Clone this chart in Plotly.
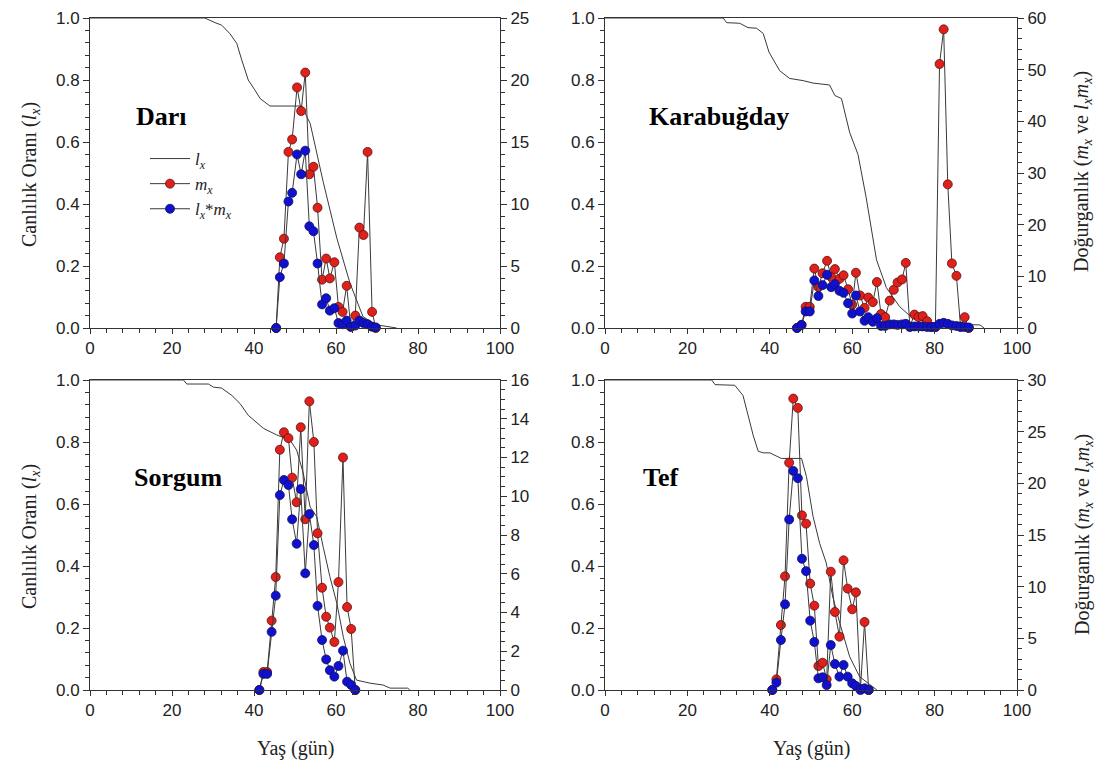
import plotly.graph_objects as go

# ---------------- data ----------------
# Darı
dari_lx_day = [0, 28, 30.5, 32.1, 34.1, 35.8, 37, 38.6, 40.2, 41.5, 43.9, 51.6, 53.7, 56.9, 60.2, 63.4, 66.6, 70, 74.8]
dari_lx = [1, 1, 0.985, 0.977, 0.95, 0.918, 0.865, 0.8, 0.768, 0.74, 0.716, 0.716, 0.66, 0.47, 0.29, 0.145, 0.036, 0.01, 0]
dari_day = [45.4, 46.3, 47.3, 48.4, 49.3, 50.5, 51.5, 52.5, 53.5, 54.5, 55.5, 56.6, 57.6, 58.5, 59.6, 60.6, 61.6, 62.6, 63.6, 64.7, 65.7, 66.7, 67.7, 68.8, 69.7]
dari_mx = [0, 5.7, 7.2, 14.2, 15.2, 19.4, 17.5, 20.6, 12.4, 13.0, 9.7, 3.9, 5.6, 4.0, 5.3, 1.7, 1.3, 3.4, 0.1, 1.0, 8.1, 7.5, 14.2, 1.3, 0]
dari_lxmx = [0, 4.1, 5.2, 10.2, 10.9, 14.0, 12.4, 14.3, 8.2, 7.8, 5.2, 1.9, 2.4, 1.4, 1.6, 0.4, 0.3, 0.6, 0.1, 0.2, 0.6, 0.4, 0.3, 0.1, 0.05]

# Karabuğday
kara_lx_day = [0, 28.7, 29.5, 32.7, 34.7, 36.8, 38.4, 39.8, 42.4, 44.8, 48.1, 50.5, 54.5, 55.8, 57.4, 59.4, 61.4, 63.4, 65.9, 68.3, 71.5, 74.7, 80.4, 91, 92]
kara_lx = [1, 1, 0.985, 0.983, 0.969, 0.967, 0.95, 0.89, 0.83, 0.805, 0.798, 0.79, 0.784, 0.75, 0.74, 0.63, 0.56, 0.42, 0.22, 0.13, 0.069, 0.031, 0.012, 0.01, 0]
kara_day = [46.6, 47.7, 48.7, 49.7, 50.8, 51.8, 52.8, 53.9, 54.9, 55.8, 56.9, 57.9, 59.0, 60.0, 60.9, 61.9, 63.0, 63.9, 65.0, 66.0, 67.0, 68.0, 69.1, 70.1, 71.0, 72.1, 73.0, 74.0, 75.1, 76.1, 77.1, 78.2, 79.2, 80.2, 81.2, 82.2, 83.2, 84.2, 85.3, 86.3, 87.3, 88.3]
kara_mx = [0, 0.6, 4.1, 4.1, 11.5, 7.9, 10.6, 13.0, 9.9, 11.4, 9.5, 10.2, 7.5, 4.5, 10.7, 6.3, 3.9, 5.9, 5.0, 8.9, 2.7, 2.1, 5.3, 7.4, 8.8, 9.4, 12.6, 0.3, 2.6, 2.1, 2.3, 1.3, 0.2, 0.2, 51.1, 57.8, 27.8, 12.5, 10.1, 0.3, 2.1, 0]
kara_lxmx = [0, 0.6, 3.2, 3.2, 9.2, 6.2, 8.3, 10.3, 7.9, 8.5, 7.2, 6.8, 4.8, 2.8, 6.3, 3.2, 1.4, 2.1, 1.2, 1.9, 0.4, 0.4, 0.7, 0.7, 0.6, 0.7, 0.8, 0.2, 0.3, 0.3, 0.3, 0.2, 0.2, 0.2, 0.8, 1.0, 0.8, 0.5, 0.4, 0.2, 0.2, 0.1]

# Sorgum
sorg_lx_day = [0, 22.8, 23.6, 28.9, 30.1, 32.1, 34.6, 36.6, 38.6, 41, 42.3, 45.5, 48.8, 50.4, 52, 53.7, 55.3, 56.9, 58.5, 60.2, 61.8, 63.4, 65, 68.3, 71.5, 73.2, 77.5, 78]
sorg_lx = [1, 1, 0.987, 0.987, 0.977, 0.974, 0.95, 0.924, 0.886, 0.859, 0.844, 0.823, 0.806, 0.774, 0.70, 0.59, 0.559, 0.46, 0.366, 0.28, 0.17, 0.086, 0.032, 0.022, 0.016, 0.006, 0.006, 0]
sorg_day = [41.3, 42.3, 43.2, 44.3, 45.3, 46.3, 47.3, 48.4, 49.3, 50.4, 51.4, 52.5, 53.5, 54.6, 55.5, 56.6, 57.6, 58.5, 59.6, 60.6, 61.7, 62.7, 63.7, 64.7]
sorg_mx = [0, 0.93, 0.93, 3.58, 5.83, 12.4, 13.3, 13.0, 10.96, 9.69, 13.56, 8.81, 14.9, 12.8, 8.09, 5.28, 3.78, 3.22, 2.48, 5.57, 12.0, 4.28, 3.15, 0]
sorg_lxmx = [0, 0.83, 0.83, 3.0, 4.87, 10.06, 10.84, 10.58, 8.81, 7.55, 10.37, 6.02, 9.08, 7.48, 4.34, 2.58, 1.58, 1.02, 0.69, 1.24, 2.03, 0.43, 0.26, 0]

# Tef
tef_lx_day = [0, 25.9, 26.7, 31.5, 33.5, 34.7, 36, 37.2, 38.4, 40, 42.8, 47.7, 48.9, 50.5, 52.1, 53.7, 55.3, 57, 59.4, 61.8, 65, 66]
tef_lx = [1, 1, 0.985, 0.983, 0.95, 0.886, 0.82, 0.77, 0.765, 0.765, 0.747, 0.747, 0.688, 0.56, 0.473, 0.41, 0.30, 0.215, 0.107, 0.043, 0.01, 0]
tef_day = [40.6, 41.6, 42.7, 43.7, 44.7, 45.7, 46.8, 47.8, 48.8, 49.8, 50.8, 51.8, 52.8, 53.8, 54.8, 55.8, 56.9, 57.9, 58.9, 60.0, 60.9, 62.0, 63.0, 64.0]
tef_mx = [0, 1.03, 6.29, 11.0, 22.0, 28.2, 27.3, 16.9, 16.1, 10.3, 8.16, 2.32, 2.64, 1.03, 11.45, 7.55, 5.16, 12.55, 9.81, 7.81, 9.45, 0.1, 6.58, 0]
tef_lxmx = [0, 0.71, 4.84, 8.29, 16.5, 21.2, 20.5, 12.7, 11.5, 6.71, 4.65, 1.13, 1.23, 0.48, 4.35, 2.52, 1.29, 2.42, 1.29, 0.65, 0.39, 0.0, 0.16, 0]

panel_names = ["Darı", "Karabuğday", "Sorgum", "Tef"]
right_max = [25, 60, 16, 30]
right_dtick = [5, 10, 2, 5]
right_minor = [1, 2, 0.5, 1]
x_ticks = [0, 20, 40, 60, 80, 100]
left_ticks = [0.0, 0.2, 0.4, 0.6, 0.8, 1.0]

panels = [
    (dari_lx_day, dari_lx, dari_day, dari_mx, dari_lxmx),
    (kara_lx_day, kara_lx, kara_day, kara_mx, kara_lxmx),
    (sorg_lx_day, sorg_lx, sorg_day, sorg_mx, sorg_lxmx),
    (tef_lx_day, tef_lx, tef_day, tef_mx, tef_lxmx),
]

# ---------------- layout geometry ----------------
W, H = 1104, 769
xdom = [[90 / W, 500 / W], [605 / W, 1017 / W]]
ydom = [[(H - 328) / H, (H - 18) / H], [(H - 690) / H, (H - 380) / H]]

AX = "#333333"
TICKFONT = dict(family="Liberation Sans, Arial, sans-serif", size=17, color="#222222")
SERIF = "Liberation Serif, Times New Roman, serif"
RED = "#e0201b"
BLUE = "#1010d0"
LINE = "#3a3a3a"

fig = go.Figure()
layout = {}

for i, (lxd, lx, d, mx, lxmx) in enumerate(panels):
    k = i + 1
    col = i % 2
    row = i // 2
    xa = "x" if k == 1 else f"x{k}"
    yl_n = 2 * i + 1
    yr_n = 2 * i + 2
    yl = "y" if yl_n == 1 else f"y{yl_n}"
    yr = f"y{yr_n}"
    show = (i == 0)

    fig.add_trace(go.Scatter(x=lxd, y=lx, xaxis=xa, yaxis=yl, mode="lines",
                             line=dict(color=LINE, width=1),
                             name="<i>l<sub>x</sub></i>", showlegend=show, legendgroup="a"))
    fig.add_trace(go.Scatter(x=d, y=mx, xaxis=xa, yaxis=yr, mode="lines+markers",
                             line=dict(color=LINE, width=1),
                             marker=dict(color=RED, size=9, line=dict(color="#5a1010", width=0.8)),
                             cliponaxis=False,
                             name="<i>m<sub>x</sub></i>", showlegend=show, legendgroup="b"))
    fig.add_trace(go.Scatter(x=d, y=lxmx, xaxis=xa, yaxis=yr, mode="lines+markers",
                             line=dict(color=LINE, width=1),
                             marker=dict(color=BLUE, size=9, line=dict(color="#10105a", width=0.8)),
                             cliponaxis=False,
                             name="<i>l<sub>x</sub></i>*<i>m<sub>x</sub></i>", showlegend=show, legendgroup="c"))

    xkey = "xaxis" if k == 1 else f"xaxis{k}"
    ylkey = "yaxis" if yl_n == 1 else f"yaxis{yl_n}"
    yrkey = f"yaxis{yr_n}"

    layout[xkey] = dict(domain=xdom[col], anchor=yl, range=[0, 100], automargin=False,
                        tickvals=x_ticks, ticks="outside", ticklen=5, tickcolor=AX,
                        minor=dict(dtick=4, tick0=0, ticks="outside", ticklen=4, tickcolor=AX),
                        showline=True, linecolor=AX, linewidth=1, mirror=True,
                        showgrid=False, zeroline=False, tickfont=TICKFONT)
    layout[ylkey] = dict(domain=ydom[row], anchor=xa, range=[0, 1], automargin=False,
                         tickvals=left_ticks, tickformat=".1f", ticks="outside", ticklen=6,
                         tickcolor=AX,
                         minor=dict(dtick=0.04, tick0=0, ticks="outside", ticklen=4, tickcolor=AX),
                         showline=True, linecolor=AX, linewidth=1,
                         showgrid=False, zeroline=False, tickfont=TICKFONT)
    layout[yrkey] = dict(overlaying=yl, anchor=xa, side="right", range=[0, right_max[i]],
                         automargin=False,
                         dtick=right_dtick[i], tick0=0, ticks="outside", ticklen=6, tickcolor=AX,
                         minor=dict(dtick=right_minor[i], tick0=0, ticks="outside", ticklen=4,
                                    tickcolor=AX),
                         showline=True, linecolor=AX, linewidth=1,
                         showgrid=False, zeroline=False, tickfont=TICKFONT)

annotations = []
# panel labels
label_pos = [(134, 116), (647, 116), (132, 477), (641, 477)]
for (px, py), name in zip(label_pos, panel_names):
    annotations.append(dict(x=px / W, y=1 - py / H, xref="paper", yref="paper",
                            text=f"<b>{name}</b>", showarrow=False, xanchor="left", yanchor="middle",
                            font=dict(family=SERIF, size=26, color="#000000")))
# left axis titles
for cy in [175, 537]:
    annotations.append(dict(x=30 / W, y=1 - cy / H, xref="paper", yref="paper",
                            text="Canlılık Oranı (<i>l<sub>x</sub></i>)", textangle=-90,
                            showarrow=False, xanchor="center", yanchor="middle",
                            font=dict(family=SERIF, size=20, color="#222222")))
# right axis titles
for cy in [172, 535]:
    annotations.append(dict(x=1083 / W, y=1 - cy / H, xref="paper", yref="paper",
                            text="Doğurganlık (<i>m<sub>x</sub></i> ve <i>l<sub>x</sub>m<sub>x</sub></i>)",
                            textangle=-90, showarrow=False, xanchor="center", yanchor="middle",
                            font=dict(family=SERIF, size=20, color="#222222")))
# x titles
for cx in [295, 811]:
    annotations.append(dict(x=cx / W, y=1 - 748 / H, xref="paper", yref="paper",
                            text="Yaş (gün)", showarrow=False, xanchor="center", yanchor="middle",
                            font=dict(family=SERIF, size=20, color="#222222")))

fig.update_layout(
    width=W, height=H, autosize=False,
    margin=dict(l=0, r=0, t=0, b=0, pad=0, autoexpand=False),
    paper_bgcolor="white", plot_bgcolor="white",
    showlegend=True,
    legend=dict(x=145 / W, y=1 - 141 / H, xanchor="left", yanchor="top",
                bgcolor="rgba(0,0,0,0)", tracegroupgap=0, itemwidth=40,
                font=dict(family=SERIF, size=17, color="#222222")),
    annotations=annotations,
    **layout,
)

fig.write_html("out.html", config={"displayModeBar": False},
               post_script="document.body.style.margin='0px';document.body.style.overflow='hidden';")
